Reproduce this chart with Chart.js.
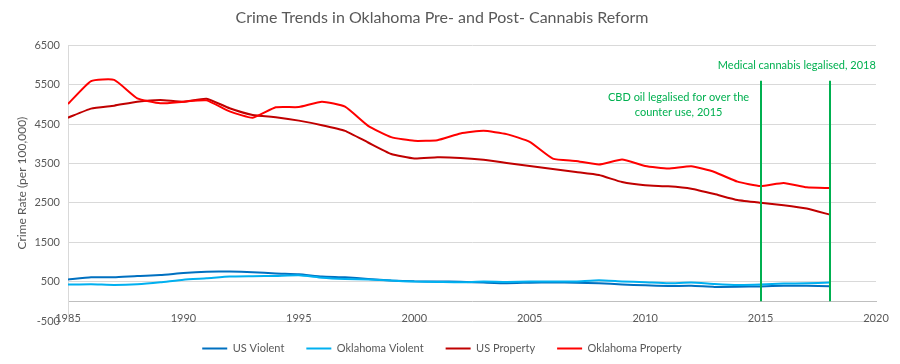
<!DOCTYPE html>
<html>
<head>
<meta charset="utf-8">
<script src="https://cdn.jsdelivr.net/npm/chart.js@4.4.1/dist/chart.umd.min.js"></script>
<style>
  html, body { margin: 0; padding: 0; background: #fff; }
</style>
</head>
<body>
<canvas id="crimeChart" width="900" height="364"></canvas>
<script>
const years = [1985, 1986, 1987, 1988, 1989, 1990, 1991, 1992, 1993, 1994,
               1995, 1996, 1997, 1998, 1999, 2000, 2001, 2002, 2003, 2004,
               2005, 2006, 2007, 2008, 2009, 2010, 2011, 2012, 2013, 2014,
               2015, 2016, 2017, 2018];

const usViolent = [551, 610, 610, 644, 665, 720, 752, 754, 740, 705,
                   685, 632, 610, 568, 525, 506, 504, 494, 476, 460,
                   472, 480, 473, 458, 428, 405, 390, 392, 366, 368,
                   378, 395, 392, 380];
const okViolent = [424, 432, 415, 432, 483, 550, 585, 627, 636, 644,
                   660, 600, 568, 551, 525, 500, 492, 483, 500, 490,
                   500, 500, 505, 535, 505, 485, 458, 475, 440, 415,
                   425, 450, 458, 475];
const usProperty = [4660, 4890, 4966, 5066, 5110, 5066, 5143, 4900, 4730, 4670,
                    4586, 4470, 4327, 4030, 3740, 3623, 3657, 3640, 3590, 3513,
                    3436, 3360, 3283, 3205, 3027, 2943, 2917, 2858, 2722, 2570,
                    2500, 2440, 2356, 2200];
const okProperty = [5008, 5590, 5620, 5153, 5025, 5066, 5100, 4820, 4660, 4923,
                    4930, 5066, 4940, 4454, 4166, 4072, 4089, 4260, 4327, 4243,
                    4047, 3623, 3562, 3473, 3597, 3436, 3368, 3427, 3282, 3037,
                    2925, 3002, 2892, 2875];

const seriesNames = ['US Violent', 'Oklahoma Violent', 'US Property', 'Oklahoma Property'];
const seriesColors = ['#0070c0', '#00b0f0', '#c00000', '#ff0000'];

// reform events: year of the marker line and its note
const reformYears = [2015, 2018];
const reformNotes = [
    ['CBD oil legalised for over the', 'counter use, 2015'],
    ['Medical cannabis legalised, 2018']
];
const reformLineTop = 5600;

const greyText = '#595959';
const green = '#00b050';

// green marker lines and their notes
const reformMarkers = {
    id: 'reformMarkers',
    afterDatasetsDraw(chart) {
        const { ctx } = chart;
        const x = chart.scales.x;
        const y = chart.scales.y;
        const top = y.getPixelForValue(reformLineTop);
        ctx.save();
        ctx.strokeStyle = green;
        ctx.lineWidth = 2;
        reformYears.forEach(yr => {
            const px = Math.round(x.getPixelForValue(yr));
            ctx.beginPath();
            ctx.moveTo(px, y.getPixelForValue(0));
            ctx.lineTo(px, top);
            ctx.stroke();
        });

        ctx.fillStyle = green;
        ctx.font = '11px Lato';
        ctx.textAlign = 'center';
        ctx.textBaseline = 'middle';
        // CBD note sits left of the 2015 line, medical note above the 2018 line
        const cbdX = x.getPixelForValue(reformYears[0]) - 82;
        reformNotes[0].forEach((line, i) => ctx.fillText(line, cbdX, top + 17 + i * 15));
        const medX = x.getPixelForValue(reformYears[1]) - 33;
        ctx.fillText(reformNotes[1][0], medX, top - 15);
        ctx.restore();
    }
};

const ctx = document.getElementById('crimeChart').getContext('2d');
const chart = new Chart(ctx, {
    type: 'line',
    data: {
        labels: years,
        datasets: [usViolent, okViolent, usProperty, okProperty].map((values, i) => ({
            label: seriesNames[i],
            data: values,
            borderColor: seriesColors[i],
            backgroundColor: seriesColors[i],
            borderWidth: 2,
            pointRadius: 0,
            tension: 0.15,
            order: 4 - i
        }))
    },
    options: {
        responsive: false,
        animation: false,
        layout: { padding: { left: 8, right: 24, top: 0, bottom: 0 } },
        plugins: {
            title: {
                display: true,
                text: 'Crime Trends in Oklahoma Pre- and Post- Cannabis Reform',
                color: greyText,
                font: { family: 'Lato', size: 16, weight: 'normal' },
                padding: { top: 8, bottom: 18 }
            },
            legend: {
                position: 'bottom',
                labels: {
                    color: greyText,
                    font: { family: 'Lato', size: 11 },
                    usePointStyle: true,
                    pointStyle: 'line',
                    pointStyleWidth: 25,
                    boxHeight: 11,
                    padding: 22,
                    sort: (a, b) => a.datasetIndex - b.datasetIndex
                }
            },
            tooltip: { enabled: false }
        },
        scales: {
            x: {
                type: 'linear',
                position: { y: 0 },
                min: 1985,
                max: 2020,
                grid: { display: false, drawTicks: false },
                border: { display: true, color: '#bfbfbf', width: 1 },
                ticks: {
                    stepSize: 5,
                    padding: 11,
                    color: greyText,
                    font: { family: 'Lato', size: 11 },
                    maxRotation: 0,
                    callback: v => String(v)
                }
            },
            y: {
                min: -500,
                max: 6500,
                grid: { color: '#d9d9d9', drawTicks: false },
                border: { display: true, color: '#d9d9d9' },
                ticks: {
                    stepSize: 1000,
                    padding: 8,
                    color: greyText,
                    font: { family: 'Lato', size: 11 },
                    callback: v => String(v)
                },
                title: {
                    display: true,
                    text: 'Crime Rate (per 100,000)',
                    color: greyText,
                    font: { family: 'Lato', size: 12 },
                    padding: { top: 7, bottom: 4 }
                },
                afterFit: scale => { scale.width = 60; }
            }
        }
    },
    plugins: [reformMarkers]
});
</script>
</body>
</html>
